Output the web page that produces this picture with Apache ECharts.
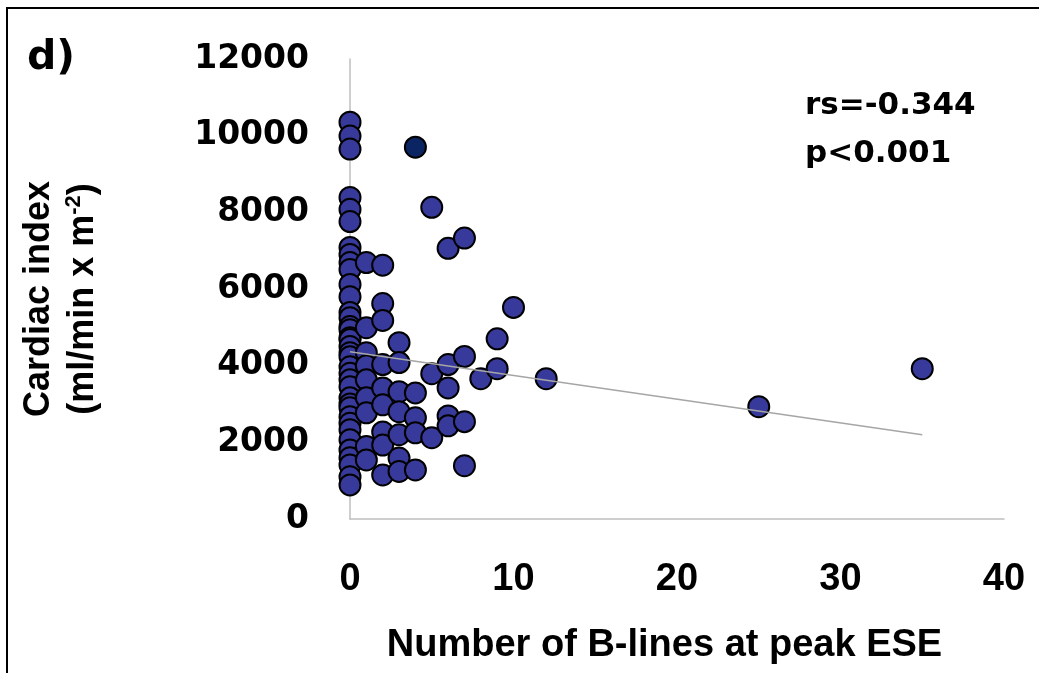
<!DOCTYPE html>
<html>
<head>
<meta charset="utf-8">
<script src="https://cdn.jsdelivr.net/npm/echarts@6/dist/echarts.min.js"></script>
<style>
html,body{margin:0;padding:0;background:#fff;}
#chart{width:1039px;height:673px;}
</style>
</head>
<body>
<div id="chart"></div>
<script>
// ---- data ----
const bLines = [
  0,0,0,0,0,0,0,0,0,0,0,0,0,0,0,0,0,0,0,0,0,0,0,0,0,0,0,0,0,0,0,0,0,0,0,0,0,
  1,1,1,1,1,1,1,1,1,
  2,2,2,2,2,2,2,2,2,
  3,3,3,3,3,3,3,
  4,4,4,4,
  5,5,5,
  6,6,6,6,6,
  7,7,7,7,
  8,9,9,10,12,25,35
];
const cardiacIndex = [
  10350,9990,9650,8390,8080,7760,7085,6900,6690,6510,6120,5800,5390,5250,5020,4940,4730,4680,4500,4340,4230,3970,3800,3630,3450,3160,3000,2900,2670,2500,2330,2070,1800,1600,1410,1100,890,
  6690,4990,4340,4000,3630,3160,2770,1890,1540,
  6620,5620,5180,4030,3420,2980,2270,1930,1150,
  4600,4080,3320,2800,2200,1590,1240,
  3290,2640,2250,1280,
  8130,3790,2120,
  7060,4030,3420,2690,2430,
  7330,4240,2540,1390,
  3660,4700,3920,5520,3660,2930,3920
];
const highlightX = [4];
const highlightY = [9700];
const trendX = [0, 35];
const trendY = [4360, 2200];
const xTicks = [0, 10, 20, 30, 40];
const yTicks = [0, 2000, 4000, 6000, 8000, 10000, 12000];
const panelLabel = 'd)';
const statLines = ['rs=-0.344', 'p<0.001'];

const pts = bLines.map((x, i) => [x, cardiacIndex[i]]);
const hiPts = highlightX.map((x, i) => [x, highlightY[i]]);
const trendPts = trendX.map((x, i) => [x, trendY[i]]);

const chart = echarts.init(document.getElementById('chart'), null, {renderer: 'canvas'});
const bold = {fontWeight: 'bold', color: '#000'};
chart.setOption({
  backgroundColor: '#fff',
  animation: false,
  grid: {left: 350, right: 35, top: 59, bottom: 154, containLabel: false},
  xAxis: {
    type: 'value', min: xTicks[0], max: xTicks[xTicks.length - 1], interval: 10,
    axisLine: {show: true, lineStyle: {color: '#bfbfbf', width: 1.5}},
    axisTick: {show: false}, splitLine: {show: false},
    axisLabel: Object.assign({fontSize: 38, fontFamily: "'Liberation Sans',Arial", margin: 42, formatter: v => String(v)}, bold),
    name: 'Number of B-lines at peak ESE', nameLocation: 'middle', nameGap: 108,
    nameTextStyle: Object.assign({fontSize: 38, fontFamily: "'Liberation Sans',Arial", padding: [0, 25, 0, 0]}, bold)
  },
  yAxis: {
    type: 'value', min: yTicks[0], max: yTicks[yTicks.length - 1], interval: 2000,
    axisLine: {show: true, lineStyle: {color: '#bfbfbf', width: 1.5}},
    axisTick: {show: false}, splitLine: {show: false},
    axisLabel: Object.assign({fontSize: 33, fontFamily: "'DejaVu Sans'", margin: 41, formatter: v => String(v)}, bold),
    name: '{a|Cardiac index}\n{a|(ml/min x m}{s|-2}{a|)}', nameLocation: 'middle', nameRotate: 90, nameGap: 245,
    nameTextStyle: {
      fontSize: 36, fontWeight: 'bold', fontFamily: "'Liberation Sans',Arial", color: '#000', lineHeight: 44,
      padding: [0, 20, 0, 0],
      rich: {
        a: {fontSize: 36, fontWeight: 'bold', fontFamily: "'Liberation Sans',Arial", color: '#000', lineHeight: 44},
        s: {fontSize: 22, fontWeight: 'bold', fontFamily: "'Liberation Sans',Arial", color: '#000', lineHeight: 44, verticalAlign: 'top', padding: [2, 0, 0, 0]}
      }
    }
  },
  graphic: [
    {type: 'rect', shape: {x: 7, y: 8, width: 1200, height: 900}, style: {fill: 'none', stroke: '#000', lineWidth: 2}, silent: true},
    {type: 'text', left: 27, top: 38, style: {text: panelLabel, font: "bold 41px 'DejaVu Sans'", fill: '#000'}},
    {type: 'text', left: 805, top: 82, style: {text: statLines.join('\n'), font: "bold 31px 'DejaVu Sans'", fill: '#000', lineHeight: 48}}
  ],
  series: [
    {
      type: 'line', data: trendPts, showSymbol: false, symbol: 'none',
      lineStyle: {color: '#a6a6a6', width: 1.5}, z: 3, silent: true
    },
    {
      type: 'scatter', data: pts, symbol: 'circle', symbolSize: 21,
      itemStyle: {color: '#383a9b', borderColor: '#000', borderWidth: 2, opacity: 1}, z: 2
    },
    {
      type: 'scatter', data: hiPts, symbol: 'circle', symbolSize: 21,
      itemStyle: {color: '#0b2462', borderColor: '#000', borderWidth: 2, opacity: 1}, z: 4
    }
  ]
});
</script>
</body>
</html>
